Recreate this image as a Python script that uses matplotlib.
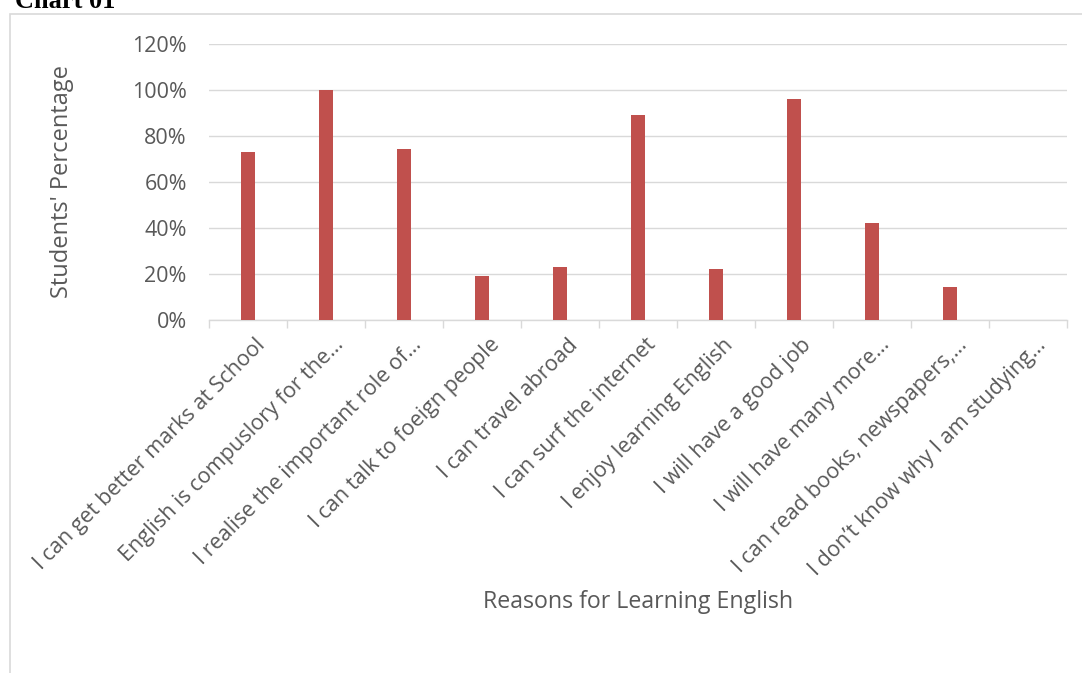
import matplotlib.pyplot as plt
from matplotlib.patches import Rectangle
from matplotlib.ticker import PercentFormatter, FixedLocator
import matplotlib.transforms as mtransforms

reasons = [
    'I can get better marks at School',
    'English is compuslory for the…',
    'I realise the important role of…',
    'I can talk to foeign people',
    'I can travel abroad',
    'I can surf the internet',
    'I enjoy learning English',
    'I will have a good job',
    'I will have many more…',
    'I can read books, newspapers,…',
    'I don’t know why I am studying…',
]
percent = [73, 100, 74, 19, 23, 89, 22, 96, 42, 14, 0]
y_ticks = [0, 20, 40, 60, 80, 100, 120]

bar_color = '#c0504d'
grid_color = '#d9d9d9'
text_color = '#595959'

plt.rcParams['font.family'] = ['Open Sans', 'DejaVu Sans']

fig = plt.figure(figsize=(10.82, 6.73), dpi=100)
W, H = 1082, 673

# outer chart frame (runs off the right and bottom edges)
fig.patches.append(Rectangle((10 / W, -0.05), 1.1, 1 - 14 / H + 0.05,
                             transform=fig.transFigure, fill=False,
                             edgecolor=grid_color, linewidth=1.2))
fig.text(15 / W, 1 - 8 / H, 'Chart 01', family='Liberation Serif',
         fontweight='bold', fontsize=19, color='black', va='baseline')

ax = fig.add_axes([209 / W, 1 - 319.5 / H, (1067 - 209) / W, 276 / H])
x = range(len(reasons))
ax.bar(x, percent, width=0.17, color=bar_color, zorder=3)

ax.set_xlim(-0.5, len(reasons) - 0.5)
ax.set_ylim(0, 120)
ax.set_yticks(y_ticks)
ax.yaxis.set_major_formatter(PercentFormatter(decimals=0))
ax.grid(axis='y', color=grid_color, linewidth=1.0, zorder=0)
ax.set_axisbelow(True)

for side in ['left', 'right', 'top']:
    ax.spines[side].set_visible(False)
ax.spines['bottom'].set_color(grid_color)
ax.spines['bottom'].set_linewidth(1.0)

ax.tick_params(axis='y', length=0, pad=16, labelsize=15.5, labelcolor=text_color)
ax.set_xticks(list(x))
ax.set_xticklabels(reasons, rotation=45, ha='right', va='top',
                   rotation_mode='anchor', fontsize=15.5, color=text_color)
ax.tick_params(axis='x', which='major', length=0, pad=0)
ax.xaxis.set_minor_locator(FixedLocator([i - 0.5 for i in range(len(reasons) + 1)]))
ax.tick_params(axis='x', which='minor', length=6, width=1.0, color=grid_color)

shift = mtransforms.ScaledTranslation(7 / 100, -15 / 100, fig.dpi_scale_trans)
for lbl in ax.get_xticklabels():
    lbl.set_transform(lbl.get_transform() + shift)

ax.set_ylabel("Students' Percentage", fontsize=17, color=text_color)
ax.yaxis.set_label_coords((62 - 209) / (1067 - 209), 0.5)
ax.set_xlabel('Reasons for Learning English', fontsize=16.7, color=text_color)
ax.xaxis.set_label_coords(0.5, -(602 - 319.5) / 276)
ax.xaxis.label.set_va('center')
ax.yaxis.label.set_va('center')

fig.savefig('out.png', dpi=100)
